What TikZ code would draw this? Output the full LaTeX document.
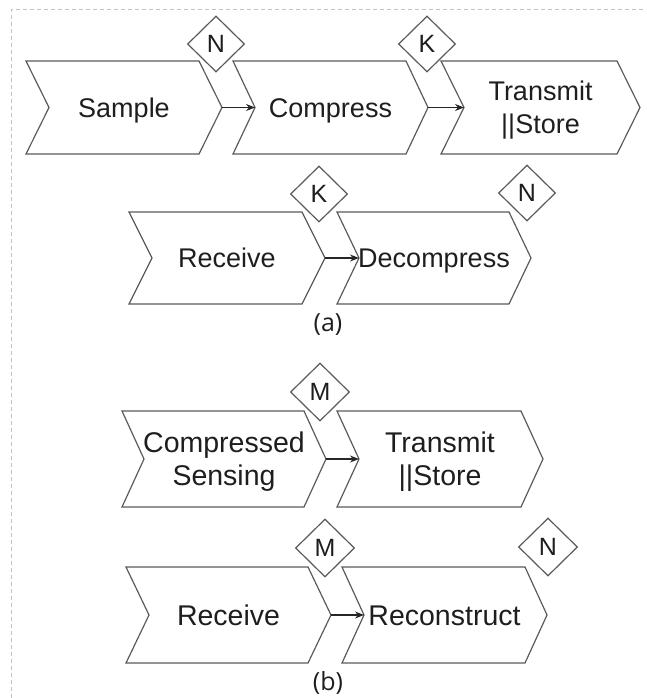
\documentclass[tikz,border=0pt]{standalone}
\usepackage{fontspec}
\setmainfont{Liberation Sans}
\newfontfamily\capfont{Open Sans}
\usetikzlibrary{shapes.geometric,arrows.meta}
\definecolor{linegray}{RGB}{90,90,90}
\definecolor{textgray}{RGB}{30,30,30}
\definecolor{bordergray}{RGB}{195,195,195}
\tikzset{
 chevtext/.style={text=textgray, font=\fontsize{27}{33}\selectfont, align=center, inner sep=0pt, text height=19.4pt, text depth=0pt},
 chevtwo/.style={chevtext, text height=52.4pt},
 chevline/.style={draw=linegray, line width=1.2pt, line join=miter},
 bigtext/.style={chevtext, font=\fontsize{28.5}{33}\selectfont, text height=20.5pt},
 bigtwo/.style={bigtext, text height=53.5pt},
 tag/.style={diamond, draw=linegray, fill=white, line width=1.2pt, minimum width=57pt, minimum height=56pt, inner sep=0pt, text=textgray, font=\fontsize{25}{30}\selectfont},
 bigtag/.style={tag, minimum width=59pt, minimum height=58pt},
 flow/.style={draw=black!85, line width=1.1pt, -{Stealth[length=9pt,width=7pt]}},
 captiontext/.style={text=textgray, font=\capfont\fontsize{25}{30}\selectfont}
}
\newcommand\mychev[8]{%
 \draw[chevline] (#2,#3) -- ({#2+#4},#3) -- ({#2+#4+#6},{#3+#5/2}) -- ({#2+#4},{#3+#5}) -- (#2,{#3+#5}) -- ({#2+#6},{#3+#5/2}) -- cycle;
 \coordinate (#1-tip) at ({#2+#4+#6},{#3+#5/2});
 \coordinate (#1-notch) at ({#2+#6},{#3+#5/2});
 \node[#8] (#1) at ({#2+(#4+#6)/2},{#3+#5/2}) {#7};
}
\begin{document}
\begin{tikzpicture}[x=1pt,y=-1pt]
\useasboundingbox (0,0) rectangle (646,698);
\draw[bordergray, dash pattern=on 4pt off 3pt, line width=1pt] (11,698) -- (11,10) -- (646,10);
% row 1
\mychev{sample}{26}{61}{173}{93}{23}{Sample}{chevtext}
\mychev{compress}{233}{61}{173}{93}{22}{Compress}{chevtext}
\mychev{transmitA}{441}{61}{176}{93}{23}{Transmit\\||Store}{chevtwo}
\draw[flow] (sample-tip) -- (compress-notch);
\draw[flow] (compress-tip) -- (transmitA-notch);
\node[tag] (n1) at (216,44) {N};
\node[tag] (k1) at (427,44) {K};
% row 2
\mychev{receiveA}{129}{212}{173}{92}{23}{Receive}{chevtext}
\mychev{decompress}{337}{212}{172}{92}{22}{Decompress}{chevtext}
\draw[flow] (receiveA-tip) -- (decompress-notch);
\node[tag] (k2) at (319,194) {K};
\node[tag] (n2) at (527,193) {N};
\node[captiontext] (capa) at (328,325) {(a)};
% row 3
\mychev{cs}{122}{411}{182}{96}{22}{Compressed\\Sensing}{bigtwo}
\mychev{transmitB}{337}{411}{184}{96}{22}{Transmit\\||Store}{bigtwo}
\draw[flow] (cs-tip) -- (transmitB-notch);
\node[bigtag] (m1) at (320,392) {M};
% row 4
\mychev{receiveB}{126}{567}{182}{96}{23}{Receive}{bigtext}
\mychev{reconstruct}{342}{567}{183}{96}{22}{Reconstruct}{bigtext}
\draw[flow] (receiveB-tip) -- (reconstruct-notch);
\node[bigtag] (m2) at (325,548) {M};
\node[bigtag] (n3) at (548,547) {N};
\node[captiontext] (capb) at (328,683) {(b)};
\end{tikzpicture}
\end{document}
